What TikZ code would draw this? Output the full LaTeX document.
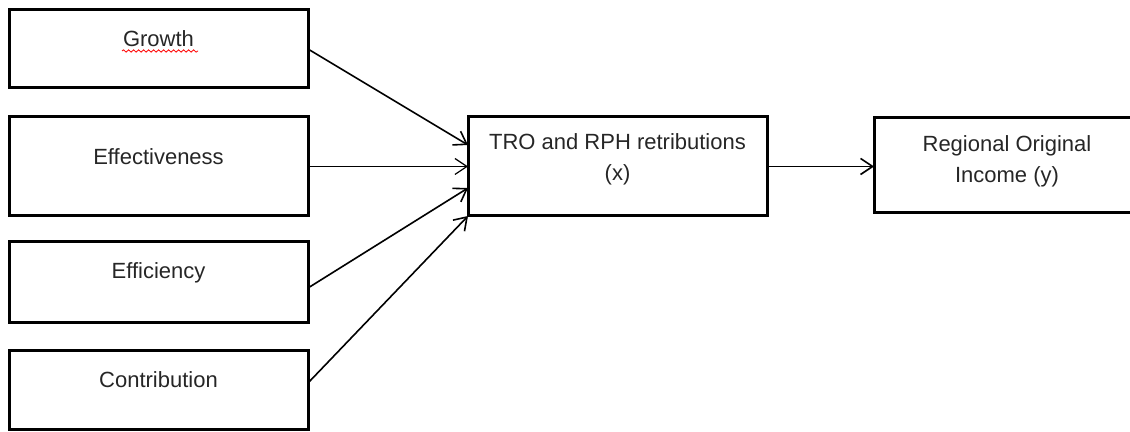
\documentclass[tikz,border=0pt]{standalone}
\usepackage{fontspec}
\setmainfont{Liberation Sans}
\usetikzlibrary{arrows.meta,decorations.pathmorphing}
\begin{document}
\begin{tikzpicture}[x=0.5pt,y=-0.5pt,
  box/.style={draw=black, line width=1.5pt, inner sep=0pt, outer sep=0pt,
    anchor=north west, font=\fontsize{11}{15.5}\selectfont, text=black!85},
  conn/.style={line width=0.8pt, -{Straight Barb[length=6pt,width=8pt]}}]
\useasboundingbox (0,0) rectangle (1130,432);
\clip (0,0) rectangle (1130,432);
\node[box, minimum width=149.5pt, text height=18.5pt, text depth=20.5pt] (g) at (9,10) {Growth};
\node[box, minimum width=149.5pt, text height=24pt, text depth=25.5pt] (e) at (9,117) {Effectiveness};
\node[box, minimum width=149.5pt, text height=18.5pt, text depth=22pt] (f) at (9,242) {Efficiency};
\node[box, minimum width=149.5pt, text height=18.5pt, text depth=21pt] (c) at (9,351) {Contribution};
\node[box, minimum width=149.5pt, text height=16.5pt, text depth=33pt] (m) at (468,117)
  {\parbox[t]{145pt}{\centering TRO and RPH retributions\\(x)}};
\node[box, minimum width=133pt, text height=17pt, text depth=30.5pt] (r) at (874,118)
  {\parbox[t]{130pt}{\centering Regional Original\\Income (y)}};
\draw[red, line width=0.4pt, decorate, decoration={snake, amplitude=0.6pt, segment length=2.5pt}]
  (122,51) -- (198,51);
\draw[conn] (g.east) -- ([yshift=10.75pt]m.west);
\draw[conn, line width=0.6pt] (e.east) -- (m.west);
\draw[conn] ([yshift=-2.75pt]f.east) -- ([yshift=-10.75pt]m.west);
\draw[conn] ([yshift=3.75pt]c.east) -- (m.south west);
\draw[conn] (m.east) -- (m.east -| r.west);
\end{tikzpicture}
\end{document}
